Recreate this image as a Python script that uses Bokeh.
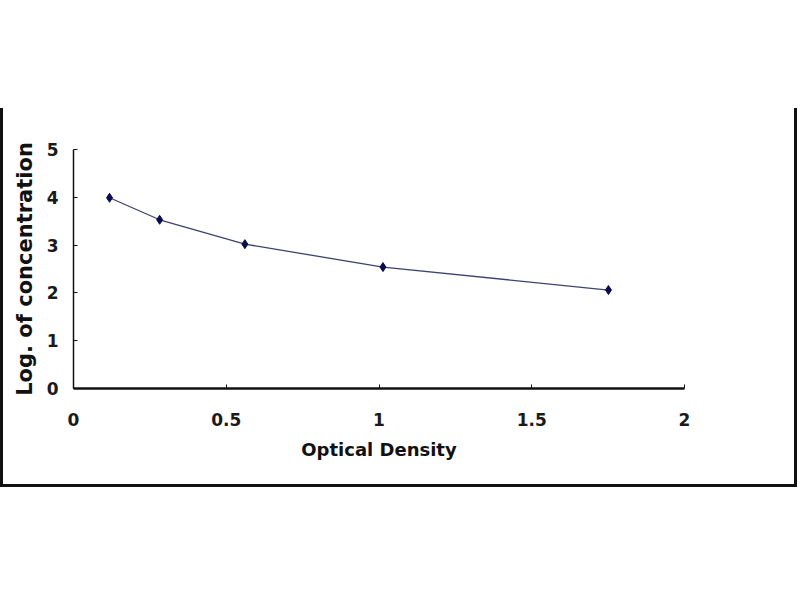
from bokeh.plotting import figure
from bokeh.embed import file_html
from bokeh.resources import INLINE
from bokeh.models import FixedTicker, Range1d

# standard curve
optical_density = [0.118, 0.282, 0.561, 1.013, 1.751]
log_concentration = [3.99, 3.53, 3.02, 2.54, 2.06]

x_ticks = [0, 0.5, 1, 1.5, 2]
y_ticks = [0, 1, 2, 3, 4, 5]

p = figure(width=797, height=379, output_backend="svg", toolbar_location=None,
           x_range=Range1d(0, 2), y_range=Range1d(0, 5),
           min_border_left=70, min_border_right=116,
           min_border_top=41, min_border_bottom=99)
p.styles = {"margin-left": "0px", "margin-top": "108px",
            "border-left": "3px solid #111", "border-right": "3px solid #111",
            "border-bottom": "3px solid #111"}

p.grid.visible = False
p.outline_line_color = None
p.background_fill_color = "white"
p.border_fill_color = "white"

for ax in (p.xaxis, p.yaxis):
    ax.axis_line_color = "#111111"
    ax.major_tick_line_color = "#111111"
    ax.major_tick_in = 4
    ax.major_tick_out = 0
    ax.minor_tick_line_color = None
    ax.major_label_text_font = "DejaVu Sans"
    ax.major_label_text_font_style = "bold"
    ax.major_label_text_font_size = "17px"
    ax.major_label_text_color = "#1a1a1a"
    ax.axis_label_text_font = "DejaVu Sans"
    ax.axis_label_text_font_style = "bold"
    ax.axis_label_text_color = "#111111"

p.xaxis.axis_line_width = 2.5
p.yaxis.axis_line_width = 1.5
p.xaxis.ticker = FixedTicker(ticks=x_ticks)
p.yaxis.ticker = FixedTicker(ticks=y_ticks)
p.xaxis.major_label_standoff = 24
p.yaxis.major_label_standoff = 15
p.xaxis.axis_label = "Optical Density"
p.yaxis.axis_label = "Log. of concentration"
p.xaxis.axis_label_text_font_size = "18px"
p.yaxis.axis_label_text_font_size = "21px"
p.xaxis.axis_label_standoff = 10
p.yaxis.axis_label_standoff = 7

p.line(optical_density, log_concentration, line_color="#3d4370", line_width=1.3)
p.scatter(optical_density, log_concentration, marker="diamond", size=9,
          fill_color="#0a0a50", line_color="#0a0a50")

open("out.html", "w").write(file_html(p, INLINE))
